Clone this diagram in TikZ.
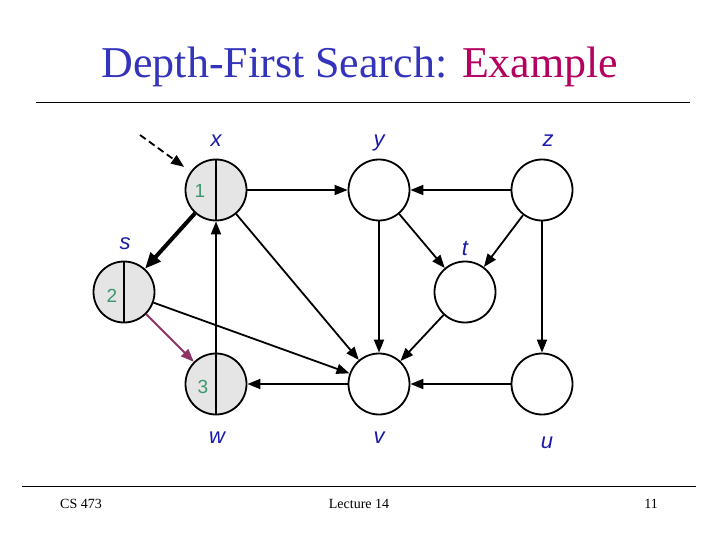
\documentclass[tikz,border=0pt]{standalone}
\usepackage{fontspec}
\setmainfont{Liberation Serif}
\setsansfont{Liberation Sans}
\usetikzlibrary{arrows.meta}
\definecolor{titleblue}{RGB}{51,51,187}
\definecolor{titlered}{RGB}{180,0,95}
\definecolor{labelblue}{RGB}{25,25,170}
\definecolor{numgreen}{RGB}{60,150,110}
\definecolor{treepurple}{RGB}{140,50,100}
\tikzset{
    vert/.style={circle, draw, line width=1.8pt, minimum size=61pt, inner sep=0pt},
    seen/.style={vert, fill=gray!20},
    lbl/.style={anchor=base, text=labelblue, font=\sffamily\itshape\fontsize{22}{22}\selectfont},
    num/.style={anchor=base, text=numgreen, font=\sffamily\fontsize{19}{19}\selectfont},
    edge/.style={-{Triangle[length=13pt,width=10pt]}, line width=1.8pt},
}
\begin{document}
\begin{tikzpicture}[x=1pt, y=-1pt]
    \useasboundingbox (0,0) rectangle (720,540);
    % title and rules
    \node[anchor=base, font=\fontsize{44}{44}\selectfont] (title) at (360,78) {\textcolor{titleblue}{Depth-First Search:} \textcolor{titlered}{Example}};
    \draw[line width=0.8pt] (36,102) -- (690,102);
    \draw[line width=0.8pt] (22,486) -- (696,486);
    \node[anchor=base, font=\fontsize{14}{14}\selectfont] (course) at (81,508) {CS 473};
    \node[anchor=base, font=\fontsize{14}{14}\selectfont] (lecture) at (359,508) {Lecture 14};
    \node[anchor=base, font=\fontsize{14}{14}\selectfont] (page) at (651,508) {11};
    % vertices
    \node[seen] (x) at (216,190) {};
    \node[seen] (s) at (124,292) {};
    \node[seen] (w) at (216,384) {};
    \node[vert] (y) at (379,190) {};
    \node[vert] (z) at (542,190) {};
    \node[vert] (t) at (465,292) {};
    \node[vert] (v) at (379,384) {};
    \node[vert] (u) at (542,384) {};
    \draw[line width=1.8pt] (x.north) -- (x.south);
    \draw[line width=1.8pt] (s.north) -- (s.south);
    \draw[line width=1.8pt] (w.north) -- (w.south);
    % discovery times
    \node[num] (dx) at (200,197) {1};
    \node[num] (ds) at (112,302) {2};
    \node[num] (dw) at (203,393) {3};
    % vertex names
    \node[lbl] (lx) at (216,147) {x};
    \node[lbl] (ly) at (379,147) {y};
    \node[lbl] (lz) at (548,147) {z};
    \node[lbl] (ls) at (125,249) {s};
    \node[lbl] (lt) at (465,255) {t};
    \node[lbl] (lw) at (217,443) {w};
    \node[lbl] (lv) at (379,443) {v};
    \node[lbl] (lu) at (547,448) {u};
    % edges
    \coordinate (start) at (140,135);
    \draw[edge, dash pattern=on 7pt off 4pt, shorten >=8pt] (start) -- (x);
    \draw[-{Triangle[length=16pt,width=13pt]}, line width=4pt] (x) -- (s);
    \draw[-{Triangle[length=13pt,width=10pt]}, line width=1.8pt, treepurple] (s) -- (w);
    \draw[edge] (w) -- (x);
    \draw[edge] (x) -- (y);
    \draw[edge] (x) -- (v);
    \draw[edge] (s) -- (v);
    \draw[edge] (z) -- (y);
    \draw[edge] (y) -- (t);
    \draw[edge] (y) -- (v);
    \draw[edge] (z) -- (t);
    \draw[edge] (z) -- (u);
    \draw[edge] (t) -- (v);
    \draw[edge] (u) -- (v);
    \draw[edge] (v) -- (w);
\end{tikzpicture}
\end{document}
